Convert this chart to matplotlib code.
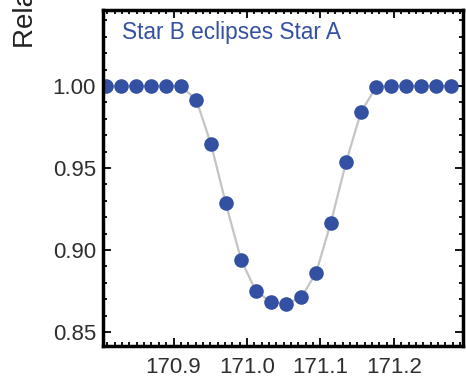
import matplotlib
matplotlib.use('Agg')
import matplotlib.pyplot as plt
from matplotlib.ticker import MultipleLocator, FormatStrFormatter

plt.rcParams['font.family'] = ['Liberation Sans', 'DejaVu Sans']

# time (days) and relative flux
time = [170.808, 170.828, 170.849, 170.869, 170.890, 170.910,
        170.931, 170.951, 170.971, 170.992, 171.012, 171.033,
        171.053, 171.074, 171.094, 171.114, 171.135, 171.155,
        171.176, 171.196, 171.217, 171.237, 171.257, 171.278]
flux = [1.000, 1.000, 1.000, 1.000, 1.000, 1.000,
        0.9915, 0.9646, 0.9287, 0.894, 0.875, 0.8683,
        0.8671, 0.8713, 0.886, 0.9165, 0.9537, 0.984,
        0.9995, 1.000, 1.000, 1.000, 1.000, 1.000]

dot_color = '#3450a3'
label_color = '#2e2e2e'

fig = plt.figure(figsize=(4.66, 3.85), dpi=100)
ax = fig.add_axes([103/466, 1 - 346/385, 360/466, 336/385])

ax.plot(time, flux, color='#c4c4c4', lw=1.6, zorder=1, clip_on=False)
ax.plot(time, flux, 'o', color=dot_color, ms=10.5, mec='none', zorder=2)

ax.set_xlim(170.804, 171.294)
ax.set_ylim(0.8415, 1.0463)

ax.xaxis.set_major_locator(MultipleLocator(0.1))
ax.xaxis.set_minor_locator(MultipleLocator(0.01))
ax.yaxis.set_major_locator(MultipleLocator(0.05))
ax.yaxis.set_minor_locator(MultipleLocator(0.01))
ax.xaxis.set_major_formatter(FormatStrFormatter('%.1f'))
ax.yaxis.set_major_formatter(FormatStrFormatter('%.2f'))

ax.tick_params(which='both', direction='in', top=True, right=True,
               width=1.3, color='black', labelsize=16, labelcolor=label_color)
ax.tick_params(which='major', length=6)
ax.tick_params(which='minor', length=3)
ax.tick_params(axis='x', which='major', pad=8)
ax.tick_params(axis='y', which='major', pad=5)

for sp in ax.spines.values():
    sp.set_linewidth(2.5)

ax.text(0.053, 0.914, 'Star B eclipses Star A', transform=ax.transAxes,
        color=dot_color, fontsize=16.3, va='baseline', ha='left')

fig.text(33/466, 1 - 48/385, 'Relative flux', rotation=90, rotation_mode='anchor',
         ha='left', va='baseline', fontsize=20, color='#222222')

fig.savefig('out.png', dpi=100)
